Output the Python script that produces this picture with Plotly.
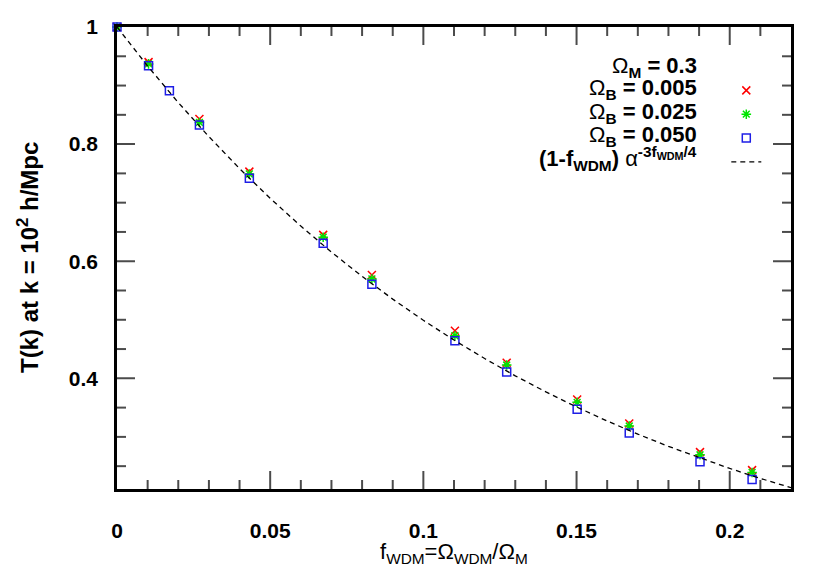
import plotly.graph_objects as go

# Data
f_wdm = [0, 0.0103, 0.0269, 0.0432, 0.0673, 0.0832, 0.1103, 0.1272, 0.1502, 0.1672, 0.1903, 0.2073]
t_b005 = [1, 0.940, 0.843, 0.753, 0.645, 0.5766, 0.4814, 0.4267, 0.364, 0.323, 0.274, 0.2432]
t_b025 = [1, 0.937, 0.837, 0.749, 0.641, 0.5697, 0.4728, 0.4227, 0.359, 0.3185, 0.2694, 0.2393]

f_wdm_b050 = [0, 0.0103, 0.0171, 0.0269, 0.0432, 0.0673, 0.0832, 0.1103, 0.1272, 0.1502, 0.1672, 0.1903, 0.2073]
t_b050 = [1, 0.934, 0.891, 0.8325, 0.7419, 0.6308, 0.5607, 0.4643, 0.4108, 0.347, 0.3065, 0.2574, 0.2274]

# dashed analytic curve, sampled
f_curve = [0, 0.01, 0.02, 0.03, 0.04, 0.05, 0.06, 0.07, 0.08, 0.09, 0.10, 0.11,
           0.12, 0.13, 0.14, 0.15, 0.16, 0.17, 0.18, 0.19, 0.20, 0.21, 0.22]
t_curve = [1, 0.9333, 0.8710, 0.8128, 0.7583, 0.7074, 0.6600, 0.6156, 0.5741, 0.5353, 0.4991, 0.4654,
           0.4338, 0.4043, 0.3768, 0.3511, 0.3271, 0.3047, 0.2838, 0.2643, 0.2461, 0.2291, 0.2133]

# tick positions (gnuplot-style inside ticks on all four sides)
x_major = [0.05, 0.10, 0.15, 0.20]
x_minor = [0.01, 0.02, 0.03, 0.04, 0.06, 0.07, 0.08, 0.09, 0.11, 0.12, 0.13, 0.14,
           0.16, 0.17, 0.18, 0.19, 0.21]
y_major = [0.4, 0.6, 0.8]
y_minor = [0.25, 0.30, 0.35, 0.45, 0.50, 0.55, 0.65, 0.70, 0.75, 0.85, 0.90, 0.95]

x_range = [0, 0.22]
y_range = [0.211, 1]

FONT = "Liberation Sans"
red = 'rgb(255,0,0)'
green = 'rgb(0,230,0)'
blue = 'rgb(30,30,230)'

fig = go.Figure()
fig.add_trace(go.Scatter(x=f_wdm, y=t_b005, mode='markers', name=' ', cliponaxis=False,
                         marker=dict(symbol='x-thin-open', size=8, color=red, line=dict(color=red, width=1.5))))
fig.add_trace(go.Scatter(x=f_wdm, y=t_b025, mode='markers', name=' ', cliponaxis=False,
                         marker=dict(symbol='asterisk-open', size=8, color=green, line=dict(color=green, width=1.5))))
fig.add_trace(go.Scatter(x=f_wdm_b050, y=t_b050, mode='markers', name=' ', cliponaxis=False,
                         marker=dict(symbol='square-open', size=8, color=blue, line=dict(color=blue, width=1.5))))
fig.add_trace(go.Scatter(x=f_curve, y=t_curve, mode='lines', name=' ',
                         line=dict(color='black', width=1.3, dash='5px,4px')))

# tick marks: line markers centred on the frame, outer half clipped by the plot area
# (line-ns / line-ew half length = 0.7 * size -> 18 px major, 9 px minor)
MAJ, MIN = 25.7, 12.9
x_ticks = x_major + x_minor
x_sizes = [MAJ] * len(x_major) + [MIN] * len(x_minor)
y_ticks = y_major + y_minor
y_sizes = [MAJ] * len(y_major) + [MIN] * len(y_minor)
for edge in y_range:
    fig.add_trace(go.Scatter(x=x_ticks, y=[edge] * len(x_ticks), mode='markers', showlegend=False,
                             hoverinfo='skip', cliponaxis=True,
                             marker=dict(symbol='line-ns', size=x_sizes, color='black',
                                         line=dict(color='black', width=2))))
for edge in x_range:
    fig.add_trace(go.Scatter(x=[edge] * len(y_ticks), y=y_ticks, mode='markers', showlegend=False,
                             hoverinfo='skip', cliponaxis=True,
                             marker=dict(symbol='line-ew', size=y_sizes, color='black',
                                         line=dict(color='black', width=2))))

# legend text, gnuplot style (text right-aligned, sample on the right)
leg_text = [
    "Ω<sub><b>M</b></sub><b> = 0.3</b>",
    "Ω<sub><b>B</b></sub><b> = 0.005</b>",
    "Ω<sub><b>B</b></sub><b> = 0.025</b>",
    "Ω<sub><b>B</b></sub><b> = 0.050</b>",
    "<b>(1-f<sub>WDM</sub>)</b> α<sup><b>-3f<sub>WDM</sub>/4</b></sup>",
]
leg_y = [0.914, 0.865, 0.813, 0.764, 0.716]
for txt, yy in zip(leg_text, leg_y):
    fig.add_annotation(x=0.8635, y=yy, xref='paper', yref='paper', text=txt, showarrow=False,
                       xanchor='right', yanchor='middle', font=dict(family=FONT, size=22, color='black'))

# axis titles
fig.add_annotation(x=0.5, y=-0.1385, xref='paper', yref='paper', showarrow=False,
                   text="f<sub>WDM</sub>=Ω<sub>WDM</sub>/Ω<sub>M</sub>",
                   xanchor='center', yanchor='middle', font=dict(family=FONT, size=22, color='black'))
fig.add_annotation(x=-0.132, y=0.5, xref='paper', yref='paper', showarrow=False, textangle=-90,
                   text="<b>T(k) at k = 10<sup>2</sup> h/Mpc</b>",
                   xanchor='center', yanchor='middle', font=dict(family=FONT, size=24, color='black'))

tfont = dict(family=FONT, size=21, color='black', weight='bold')
axis_style = dict(showgrid=False, zeroline=False, showline=True, linecolor='black', linewidth=2.5,
                  mirror=True, ticks='outside', tickcolor='rgba(0,0,0,0)', tickfont=tfont)

fig.update_layout(
    template='none',
    width=822, height=573,
    plot_bgcolor='white', paper_bgcolor='white',
    margin=dict(l=109, r=39, t=19, b=92),
    xaxis=dict(range=x_range, dtick=0.05, tick0=0, ticklen=21, **axis_style),
    yaxis=dict(range=y_range, dtick=0.2, tick0=0, ticklen=12, **axis_style),
    showlegend=True,
    legend=dict(x=0.904, y=0.8994, xanchor='left', yanchor='top', bgcolor='rgba(0,0,0,0)',
                font=dict(family=FONT, size=16), itemwidth=30),
)

fig.write_html("out.html")
